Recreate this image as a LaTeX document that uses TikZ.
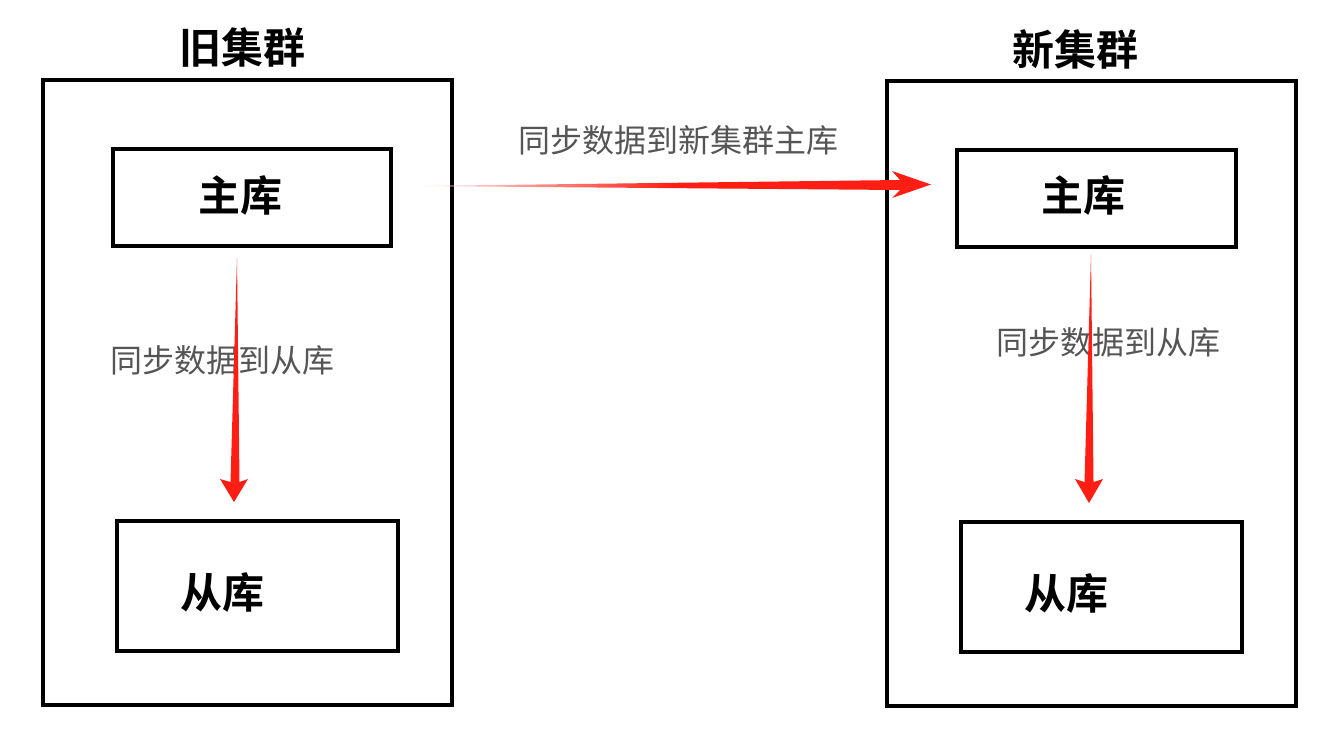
\documentclass[tikz,border=0pt]{standalone}
\usepackage{fontspec}
\newfontfamily\cjk{Noto Sans CJK SC}
\newfontfamily\cjkb{Noto Sans CJK SC Bold}
\definecolor{arrred}{HTML}{FF1E14}
\definecolor{lblgray}{HTML}{555555}
\begin{document}
\begin{tikzpicture}[x=1pt,y=-1pt,
  box/.style={draw=black,line width=4pt,inner sep=0pt},
  title/.style={font=\cjkb\fontsize{42}{50}\selectfont},
  dblabel/.style={font=\cjkb\fontsize{42}{50}\selectfont},
  synclabel/.style={font=\cjk\fontsize{32}{38}\selectfont,text=lblgray}]
\useasboundingbox (0,0) rectangle (1337,739);
% outer cluster boxes
\draw[box] (43,80) rectangle (452,705);
\draw[box] (887,81) rectangle (1296,706);
% inner boxes
\draw[box] (113,149) rectangle (391,246);
\draw[box] (117,521) rectangle (398,651);
\draw[box] (957,150) rectangle (1236,247);
\draw[box] (961,522) rectangle (1242,652);
% titles
\node[title] (t1) at (242,47) {旧集群};
\node[title] (t2) at (1075,49) {新集群};
% db labels
\node[dblabel] (m1) at (240,196) {主库};
\node[dblabel] (s1) at (222,593) {从库};
\node[dblabel] (m2) at (1083,196) {主库};
\node[dblabel] (s2) at (1066,594) {从库};
% sync labels
\node[synclabel] (l1) at (678,140) {同步数据到新集群主库};
\node[synclabel] (l2) at (222,360) {同步数据到从库};
\node[synclabel] (l3) at (1108,342) {同步数据到从库};
% tapered arrows
\coordinate (hA) at (415,186);
\coordinate (hB) at (931,184);
\shade[left color=arrred!5,right color=arrred,middle color=arrred]
  (415,186) -- (900,180) -- (892,171) -- (931,184.5) -- (892,198) -- (900,190) -- cycle;
\fill[arrred] (237,258) -- (230.5,482) -- (220,479) -- (234,502) -- (248,479) -- (239.5,482) -- cycle;
\fill[arrred] (1091,254) -- (1084.5,482) -- (1075,479) -- (1089,503) -- (1103,479) -- (1093.5,482) -- cycle;
\end{tikzpicture}
\end{document}
